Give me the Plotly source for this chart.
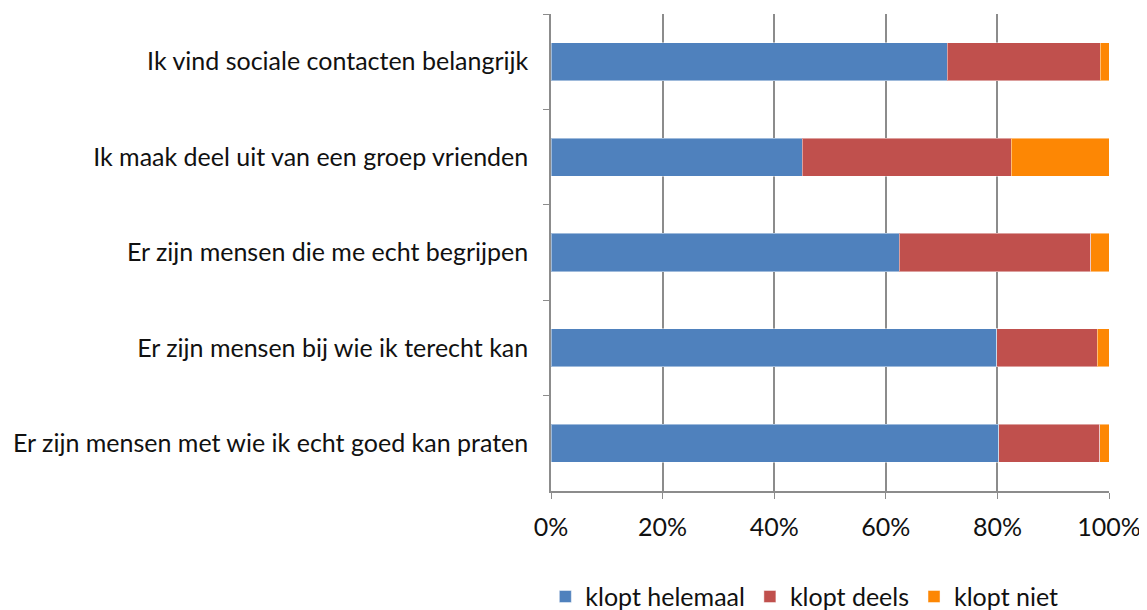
import plotly.graph_objects as go

categories = [
    "Ik vind sociale contacten belangrijk",
    "Ik maak deel uit van een groep vrienden",
    "Er zijn mensen die me echt begrijpen",
    "Er zijn mensen bij wie ik terecht kan",
    "Er zijn mensen met wie ik echt goed kan praten",
]
klopt_helemaal = [71.0, 45.0, 62.4, 79.9, 80.2]
klopt_deels = [27.4, 37.5, 34.3, 18.0, 18.1]
klopt_niet = [1.6, 17.5, 3.3, 2.1, 1.7]
x_ticks = [0, 20, 40, 60, 80, 100]

SERIES = (
    ("klopt helemaal", klopt_helemaal, "#4F81BD"),
    ("klopt deels", klopt_deels, "#C0504D"),
    ("klopt niet", klopt_niet, "#FD8704"),
)

FONT = "Lato, 'Open Sans', sans-serif"
GRID = "#8c8c8c"

fig = go.Figure()
for name, values, color in SERIES:
    fig.add_trace(
        go.Bar(
            x=values,
            y=categories,
            orientation="h",
            name=name,
            marker={"color": color, "line": {"color": "rgba(255,255,255,0.45)", "width": 1}},
        )
    )

# the page body has an 8px margin, so the figure is sized and offset for it
fig.update_layout(
    width=1139,
    height=602,
    barmode="stack",
    bargap=0.6,
    margin={"l": 543, "r": 38, "t": 6, "b": 119, "autoexpand": False},
    paper_bgcolor="white",
    plot_bgcolor="white",
    font={"family": FONT, "size": 25, "color": "#111111"},
    showlegend=True,
    legend={
        "orientation": "h",
        "x": 0.454,
        "xanchor": "center",
        "yref": "container",
        "y": 0.022,
        "yanchor": "middle",
        "font": {"size": 25},
        "traceorder": "normal",
        "itemwidth": 30,
    },
    xaxis={
        "range": [0, 100],
        "tickvals": x_ticks,
        "ticktext": [f"{v}%" for v in x_ticks],
        "showgrid": True,
        "gridcolor": GRID,
        "gridwidth": 2,
        "zeroline": False,
        "showline": True,
        "linecolor": GRID,
        "linewidth": 1.5,
        "ticks": "outside",
        "ticklen": 6,
        "tickcolor": GRID,
        "ticklabelstandoff": 7,
        "fixedrange": True,
    },
    yaxis={
        "categoryorder": "array",
        "categoryarray": categories,
        "autorange": "reversed",
        "showline": True,
        "linecolor": GRID,
        "linewidth": 1.5,
        "ticks": "outside",
        "tickson": "boundaries",
        "ticklen": 6,
        "tickcolor": GRID,
        "ticklabelstandoff": 16,
        "showgrid": False,
        "fixedrange": True,
    },
)

fig.write_html("out.html")
